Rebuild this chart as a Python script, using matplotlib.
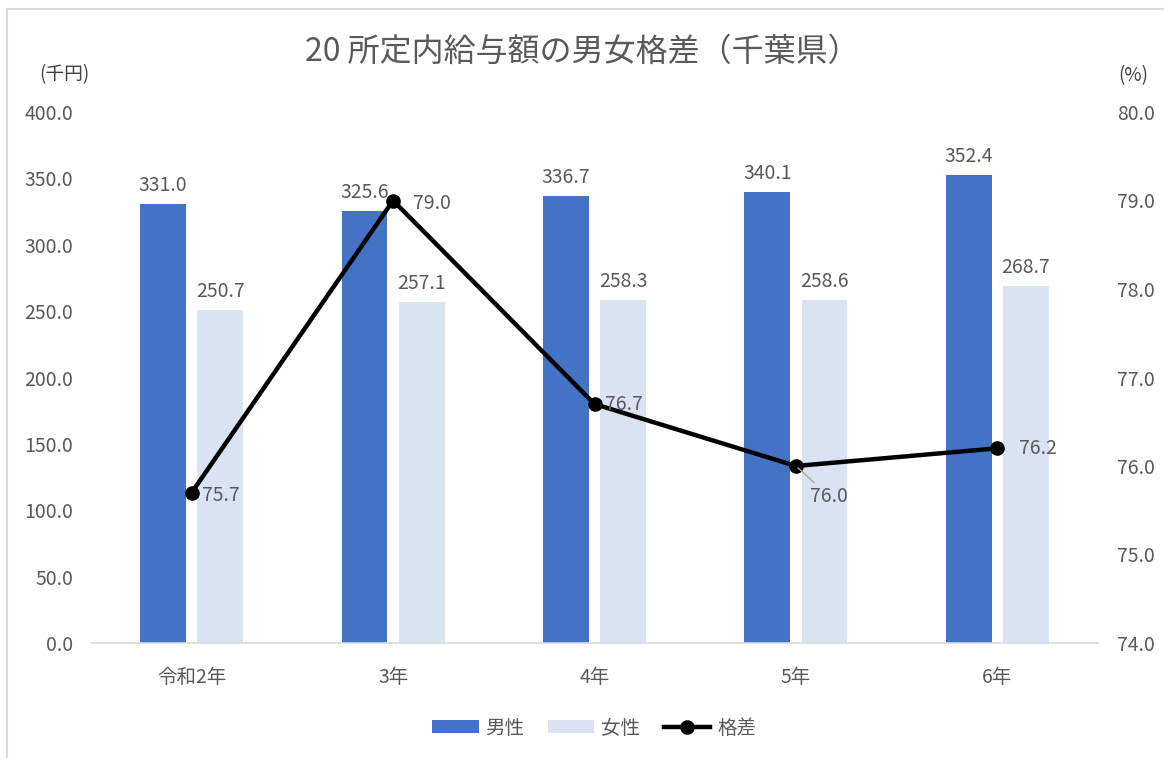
import numpy as np
import matplotlib
matplotlib.use('Agg')
import matplotlib.pyplot as plt
from matplotlib.lines import Line2D

plt.rcParams['font.family'] = ['Noto Sans CJK JP', 'DejaVu Sans']

# data
years = ['令和2年', '3年', '4年', '5年', '6年']
male = [331.0, 325.6, 336.7, 340.1, 352.4]
female = [250.7, 257.1, 258.3, 258.6, 268.7]
gap = [75.7, 79.0, 76.7, 76.0, 76.2]

GRAY = '#595959'
FS = 14
W, H = 1164, 758
fig = plt.figure(figsize=(W / 100, H / 100), dpi=100)

# chart border (light gray frame)
fig.add_artist(Line2D([7 / W, 7 / W], [0, 1 - 9 / H], color='#D9D9D9', lw=1.5))
fig.add_artist(Line2D([7 / W, 1], [1 - 9 / H, 1 - 9 / H], color='#D9D9D9', lw=1.5))

ax = fig.add_axes([91 / W, 1 - 643 / H, (1098 - 91) / W, (643 - 112) / H])
x = np.arange(len(years))
bw = 0.228
off = 0.142
b1 = ax.bar(x - off, male, bw, color='#4472C4', label='男性', zorder=2)
b2 = ax.bar(x + off, female, bw, color='#DAE3F3', label='女性', zorder=2)

for xi, v in zip(x, male):
    ax.annotate(f'{v:.1f}', (xi - off, v), xytext=(0, 8), textcoords='offset pixels',
                ha='center', va='bottom', fontsize=FS, color=GRAY)
for xi, v in zip(x, female):
    ax.annotate(f'{v:.1f}', (xi + off, v), xytext=(0, 8), textcoords='offset pixels',
                ha='center', va='bottom', fontsize=FS, color=GRAY)

ax.set_xlim(-0.5, len(years) - 0.5)
ax.set_ylim(0, 400)
ax.set_yticks(np.arange(0, 401, 50))
ax.set_yticklabels([f'{t:.1f}' for t in np.arange(0, 401, 50)])
ax.set_xticks(x)
ax.set_xticklabels(years)
ax.tick_params(axis='y', length=0, pad=13, labelsize=FS, labelcolor=GRAY)
ax.tick_params(axis='x', length=0, pad=17, labelsize=FS, labelcolor=GRAY)
for s in ['top', 'right', 'left']:
    ax.spines[s].set_visible(False)
ax.spines['bottom'].set_color('#D9D9D9')
ax.spines['bottom'].set_linewidth(1.2)

ax2 = ax.twinx()
ax2.plot(x, gap, color='black', lw=3.2, marker='o', markersize=9.5, label='格差', zorder=3)
ax2.set_ylim(74, 80)
ax2.set_yticks(np.arange(74, 80.1, 1))
ax2.set_yticklabels([f'{t:.1f}' for t in np.arange(74, 80.1, 1)])
ax2.tick_params(axis='y', length=0, pad=14, labelsize=FS, labelcolor=GRAY)
for s in ['top', 'right', 'left', 'bottom']:
    ax2.spines[s].set_visible(False)

# line labels: per-point pixel offsets (5年 sits below-right with a leader line)
label_offsets = [(10, -3), (20, -3), (10, 0), (14, -30), (22, 0)]
for i, v in enumerate(gap):
    dx, dy = label_offsets[i]
    kw = {}
    if i == 3:
        kw['arrowprops'] = dict(arrowstyle='-', color='#A6A6A6', lw=1, shrinkA=0, shrinkB=2)
    ax2.annotate(f'{v:.1f}', (x[i], v), xytext=(dx, dy), textcoords='offset pixels',
                 ha='left', va='center', fontsize=FS, color=GRAY, **kw)

fig.text(582 / W, 1 - 52 / H, '20 所定内給与額の男女格差（千葉県）', ha='center', va='center',
         fontsize=23, color=GRAY)
fig.text(64 / W, 1 - 75 / H, '(千円)', ha='center', va='center', fontsize=13.5, color='#404040')
fig.text(1133 / W, 1 - 76 / H, '(%)', ha='center', va='center', fontsize=13.5, color='#404040')

handles = [b1, b2, ax2.get_lines()[0]]
fig.legend(handles, ['男性', '女性', '格差'], loc='center', bbox_to_anchor=(594 / W, 1 - 728 / H),
           ncol=3, frameon=False, fontsize=FS, labelcolor=GRAY, handlelength=2.4,
           handleheight=0.65, handletextpad=0.35, columnspacing=1.2)

fig.savefig('out.png', dpi=100)
